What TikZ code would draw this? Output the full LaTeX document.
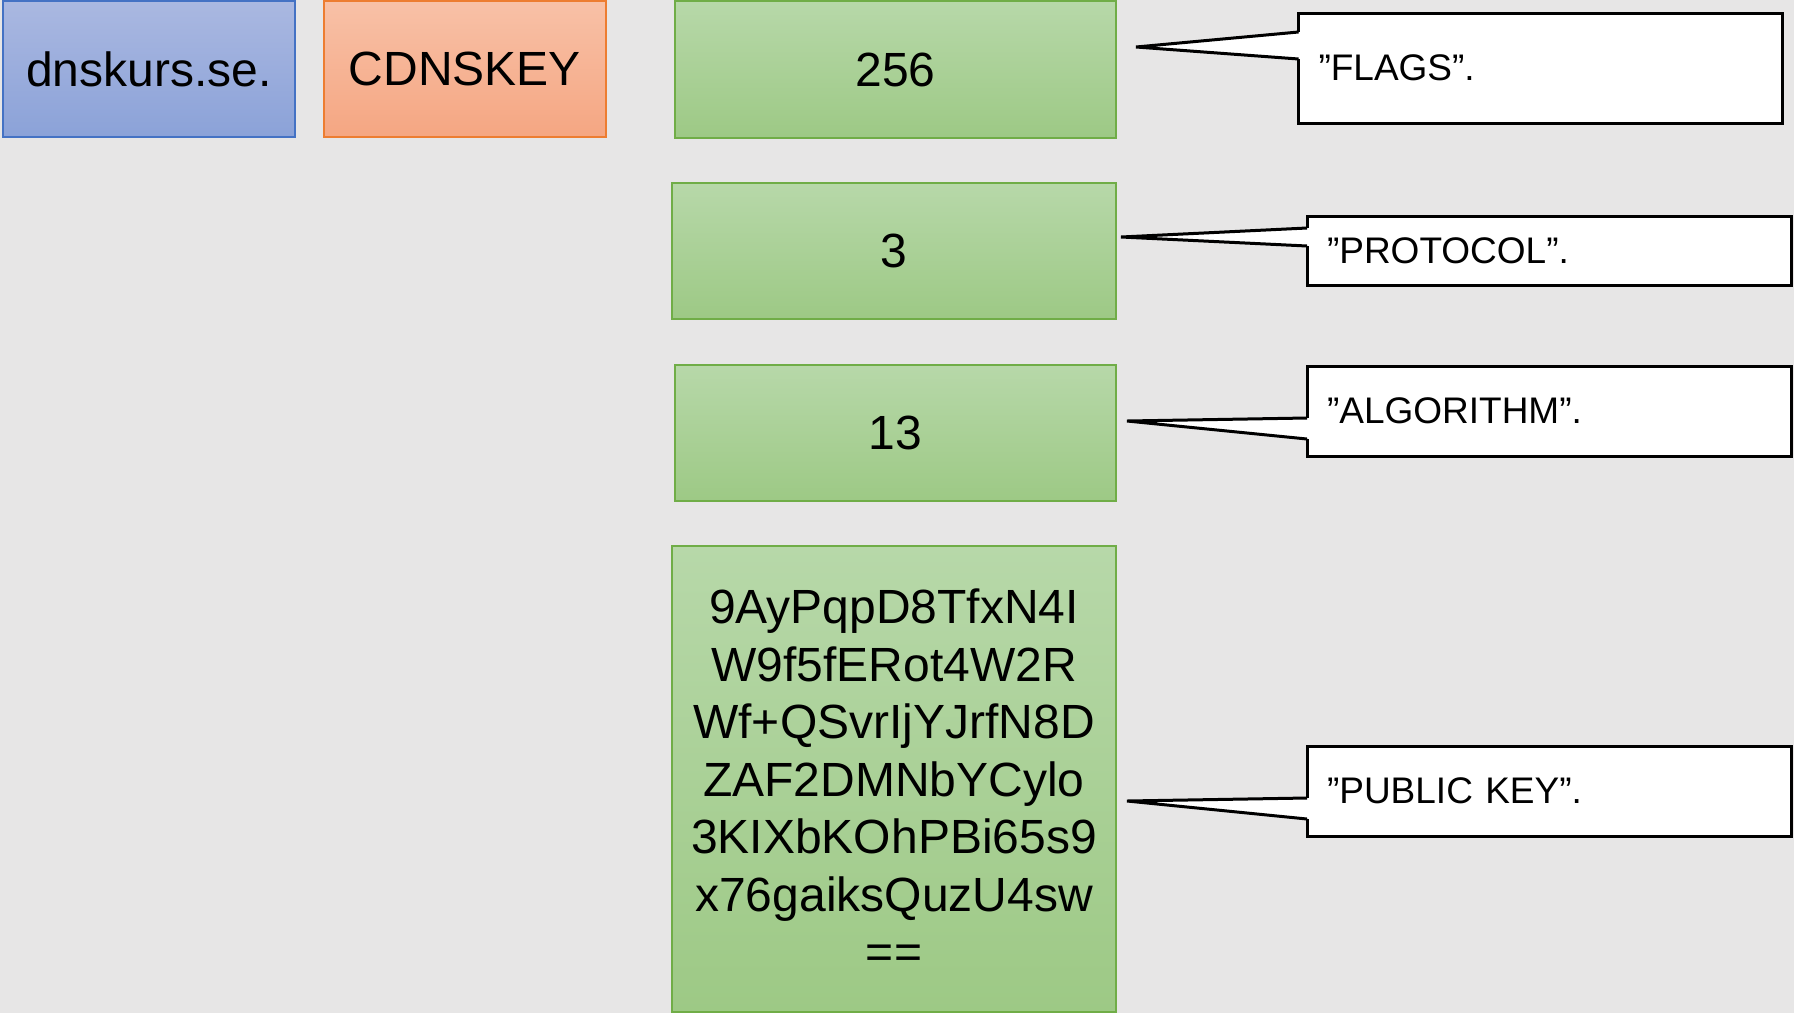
\documentclass[tikz,border=0pt]{standalone}
\usepackage{fontspec}
\setmainfont{Liberation Sans}
\usepackage{tikz}
\usetikzlibrary{positioning,calc}
\definecolor{bgcol}{RGB}{231,230,230}
\definecolor{bluetop}{RGB}{170,184,225}
\definecolor{bluebot}{RGB}{139,162,216}
\definecolor{blueline}{RGB}{68,114,196}
\definecolor{orangetop}{RGB}{248,193,167}
\definecolor{orangebot}{RGB}{245,166,130}
\definecolor{orangeline}{RGB}{237,125,49}
\definecolor{greentop}{RGB}{183,216,169}
\definecolor{greenbot}{RGB}{157,201,133}
\definecolor{greenline}{RGB}{112,173,71}

\begin{document}
\begin{tikzpicture}[
    x=0.5pt, y=-0.5pt,
    bigtext/.style={font=\fontsize{24}{28.75}\selectfont},
    record/.style={rectangle, inner sep=0pt, outer sep=0pt, line width=0.75pt, align=center, bigtext, text depth=-3.4pt},
    ownerbox/.style={record, draw=blueline, top color=bluetop, bottom color=bluebot},
    typebox/.style={record, draw=orangeline, top color=orangetop, bottom color=orangebot},
    fieldbox/.style={record, draw=greenline, top color=greentop, bottom color=greenbot},
    notebox/.style={rectangle, draw=black, fill=white, line width=1.5pt, inner xsep=10pt, inner ysep=0pt,
        outer sep=0pt, text width=222pt, align=left, minimum width=242pt, text depth=-2.3pt,
        font=\fontsize{18.5}{22}\selectfont},
    pointer/.style={line width=1.5pt, line join=miter}
]

% Background
\fill[bgcol] (0,0) rectangle (1794,1013);
\useasboundingbox (0,0) rectangle (1794,1013);

% Owner and type
\node[ownerbox, minimum width=146pt, minimum height=68pt] (owner) at (149,69) {dnskurs.se.};
\node[typebox, minimum width=141pt, minimum height=68pt] (rrtype) at (465,69) {CDNSKEY};

% Record fields
\node[fieldbox, minimum width=220.5pt, minimum height=68.5pt] (flags) at (895.5,69.5) {256};
\node[fieldbox, minimum width=222pt, minimum height=68pt] (proto) at (894,251) {3};
\node[fieldbox, minimum width=220.5pt, minimum height=68pt] (algo) at (895.5,433) {13};
\node[fieldbox, minimum width=222pt, minimum height=233pt, text depth=-2.3pt] (pubkey) at (894,779) {%
    9AyPqpD8TfxN4I\\W9f5fERot4W2R\\Wf+QSvrIjYJrfN8D\\ZAF2DMNbYCylo\\3KIXbKOhPBi65s9\\x76gaiksQuzU4sw\\==};

% Callouts
\node[notebox, minimum height=55pt] (nflags) at (1540.5,68) {”FLAGS”.};
\node[notebox, minimum height=34.5pt] (nproto) at (1549,250.5) {”PROTOCOL”.};
\node[notebox, minimum height=45pt] (nalgo) at (1549,411) {”ALGORITHM”.};
\node[notebox, minimum height=45pt] (nkey) at (1549,791) {”PUBLIC KEY”.};

% Pointer tips
\coordinate (tflags) at (1136,47);
\coordinate (tproto) at (1121,237);
\coordinate (talgo) at (1127,421);
\coordinate (tkey) at (1127,801);

% Pointers
\fill[white] ([xshift=1.5pt]nflags.west |- 0,32) -- (tflags) -- ([xshift=1.5pt]nflags.west |- 0,59) -- cycle;
\draw[pointer] (nflags.west |- 0,32) -- (tflags) -- (nflags.west |- 0,59);
\fill[white] ([xshift=1.5pt]nproto.west |- 0,228) -- (tproto) -- ([xshift=1.5pt]nproto.west |- 0,246) -- cycle;
\draw[pointer] (nproto.west |- 0,228) -- (tproto) -- (nproto.west |- 0,246);
\fill[white] ([xshift=1.5pt]nalgo.west |- 0,418) -- (talgo) -- ([xshift=1.5pt]nalgo.west |- 0,439) -- cycle;
\draw[pointer] (nalgo.west |- 0,418) -- (talgo) -- (nalgo.west |- 0,439);
\fill[white] ([xshift=1.5pt]nkey.west |- 0,798) -- (tkey) -- ([xshift=1.5pt]nkey.west |- 0,819) -- cycle;
\draw[pointer] (nkey.west |- 0,798) -- (tkey) -- (nkey.west |- 0,819);

\end{tikzpicture}
\end{document}
